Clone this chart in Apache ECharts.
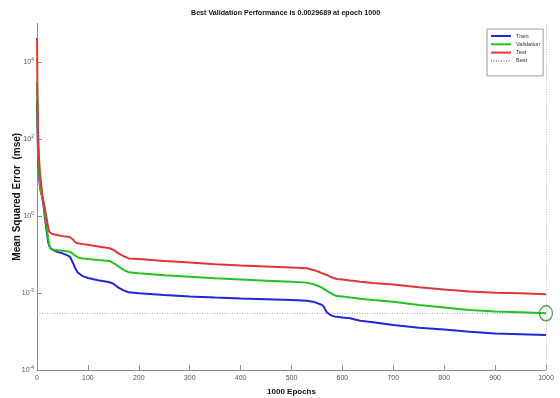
<!DOCTYPE html>
<html>
<head>
<meta charset="utf-8">
<script src="https://cdn.jsdelivr.net/npm/echarts@6/dist/echarts.min.js"></script>
<style>
  html, body { margin: 0; padding: 0; background: #fff; }
  #chart { width: 560px; height: 398px; }
</style>
</head>
<body>
<div id="chart"></div>
<script>
// Training record: epochs sampled along the run and the MSE of each split.
const epochs = [0, 1, 2, 4, 6, 8, 10, 12, 14, 16, 18, 20, 22, 24, 26, 30, 40, 50, 60, 65, 70, 75, 80, 90, 100, 120, 143, 150, 160, 170, 180, 200, 250, 300, 350, 400, 450, 500, 530, 545, 555, 562, 569, 575, 582, 589, 600, 615, 625, 635, 660, 700, 750, 800, 850, 900, 950, 1000];

const trainMse = [1000, 160, 40, 10, 5.6, 4.0, 3.2, 2.2, 1.4, 0.8, 0.5, 0.32, 0.21, 0.17, 0.148, 0.135, 0.117, 0.107, 0.095, 0.087, 0.063, 0.044, 0.034, 0.0275, 0.0245, 0.0214, 0.019, 0.0174, 0.0138, 0.0117, 0.0105, 0.0098, 0.0089, 0.0081, 0.0076, 0.0072, 0.0069, 0.0066, 0.0063, 0.0058, 0.0052, 0.0047, 0.0032, 0.00275, 0.0025, 0.0024, 0.0023, 0.0022, 0.00204, 0.0019, 0.00174, 0.00148, 0.00126, 0.00112, 0.00098, 0.00089, 0.00085, 0.00081];

const validationMse = [3000, 400, 63, 12.6, 6.3, 4.0, 3.2, 2.5, 1.8, 1.0, 0.63, 0.4, 0.25, 0.178, 0.145, 0.135, 0.129, 0.126, 0.12, 0.117, 0.105, 0.093, 0.085, 0.079, 0.076, 0.072, 0.068, 0.060, 0.049, 0.040, 0.0347, 0.0324, 0.0288, 0.0263, 0.024, 0.0224, 0.0209, 0.0195, 0.0186, 0.0166, 0.0148, 0.0132, 0.0115, 0.0102, 0.0091, 0.0083, 0.0081, 0.0076, 0.0074, 0.0071, 0.0066, 0.0059, 0.0049, 0.0042, 0.0036, 0.0033, 0.00316, 0.0029689];

const testMse = [42000, 1600, 160, 32, 12.6, 7, 4, 2.6, 2, 1.4, 1.0, 0.7, 0.5, 0.39, 0.36, 0.34, 0.32, 0.30, 0.29, 0.28, 0.25, 0.21, 0.195, 0.186, 0.178, 0.162, 0.145, 0.132, 0.107, 0.091, 0.079, 0.076, 0.068, 0.062, 0.056, 0.052, 0.049, 0.046, 0.044, 0.039, 0.035, 0.032, 0.0295, 0.027, 0.0245, 0.023, 0.0224, 0.021, 0.0204, 0.0195, 0.0182, 0.0166, 0.0141, 0.0123, 0.011, 0.0102, 0.0098, 0.0093];

const bestEpoch = 1000;
const bestValue = 0.0029689;

const yTicks = [1e-4, 1e-2, 1, 1e2, 1e4];

const seriesNames = ['Train', 'Validation', 'Test', 'Best'];

const FONT = '"Liberation Sans Narrow", "Arial Narrow", "Liberation Sans", Arial, sans-serif';
const C_TRAIN = '#2424d8';
const C_VAL = '#22c322';
const C_TEST = '#e23434';
const C_BEST = '#9aab9a';

const pairs = (vals) => epochs.map((e, i) => [e, vals[i]]);

const chart = echarts.init(document.getElementById('chart'), null, { renderer: 'canvas' });

chart.setOption({
  animation: false,
  backgroundColor: '#ffffff',
  graphic: [{
    type: 'text',
    x: 191,
    y: 9,
    scaleX: 0.89,
    style: {
      text: 'Best Validation Performance is ' + bestValue + ' at epoch ' + bestEpoch,
      font: 'bold 8px ' + FONT,
      fill: '#111'
    }
  }],
  grid: { left: 37, right: 14, top: 23.5, bottom: 28, containLabel: false, outerBoundsMode: 'none' },
  legend: {
    data: seriesNames,
    orient: 'vertical',
    left: 487,
    top: 29,
    itemWidth: 20,
    itemHeight: 6,
    itemGap: 2.3,
    padding: [4, 3, 12, 3],
    backgroundColor: '#fff',
    borderColor: '#9a9a9a',
    borderWidth: 1,
    itemStyle: { opacity: 0 },
    textStyle: { fontFamily: FONT, fontSize: 5.6, color: '#333' }
  },
  xAxis: {
    type: 'value',
    min: 0,
    max: 1000,
    interval: 100,
    name: '1000 Epochs',
    nameLocation: 'middle',
    nameGap: 18,
    nameMoveOverlap: false,
    nameTextStyle: { fontFamily: FONT, fontWeight: 'bold', fontSize: 8, color: '#111' },
    axisLine: { lineStyle: { color: '#8c8c8c', width: 1 } },
    axisTick: { inside: true, length: 5, lineStyle: { color: '#8c8c8c' } },
    axisLabel: { fontFamily: FONT, fontSize: 7, color: '#555', margin: 5, formatter: (v) => String(v) },
    splitLine: { show: false }
  },
  yAxis: {
    type: 'log',
    logBase: 10,
    min: 1e-4,
    max: 1e5,
    name: 'Mean Squared Error  (mse)',
    nameLocation: 'middle',
    nameRotate: 90,
    nameGap: 15,
    nameMoveOverlap: false,
    nameTextStyle: { fontFamily: FONT, fontWeight: 'bold', fontSize: 10, color: '#111' },
    axisLine: { show: true, lineStyle: { color: '#8c8c8c', width: 1 } },
    axisTick: { show: true, inside: true, length: 5, customValues: yTicks, lineStyle: { color: '#8c8c8c' } },
    axisLabel: {
      customValues: yTicks,
      margin: 3,
      fontFamily: FONT,
      fontSize: 7,
      color: '#555',
      formatter: (v) => '10{s|' + Math.round(Math.log10(v)) + '}',
      rich: { s: { fontSize: 5, fontFamily: FONT, color: '#555', padding: [0, 0, 5, 0] } }
    },
    splitLine: { show: false }
  },
  series: [
    {
      name: 'Train', type: 'line', data: pairs(trainMse), symbol: 'none',
      lineStyle: { color: C_TRAIN, width: 2 }, itemStyle: { color: C_TRAIN }
    },
    {
      name: 'Validation', type: 'line', data: pairs(validationMse), symbol: 'none',
      lineStyle: { color: C_VAL, width: 2 }, itemStyle: { color: C_VAL }
    },
    {
      name: 'Test', type: 'line', data: pairs(testMse), symbol: 'none',
      lineStyle: { color: C_TEST, width: 2 }, itemStyle: { color: C_TEST }
    },
    {
      name: 'Best', type: 'line', data: [[0, bestValue], [bestEpoch, bestValue]], symbol: 'none',
      lineStyle: { color: C_BEST, width: 1, type: [1, 1.5] }, itemStyle: { color: C_BEST },
      z: 1,
      markLine: {
        silent: true,
        symbol: 'none',
        label: { show: false },
        lineStyle: { color: '#b8b8b8', width: 1, type: [1, 1.5] },
        data: [{ xAxis: bestEpoch }]
      }
    },
    {
      name: 'best point', type: 'scatter', data: [[bestEpoch, bestValue]],
      symbol: 'circle', symbolSize: [13, 15],
      itemStyle: { color: 'rgba(0,0,0,0)', borderColor: '#2e8a2e', borderWidth: 1.5 },
      z: 5
    }
  ]
});
</script>
</body>
</html>
